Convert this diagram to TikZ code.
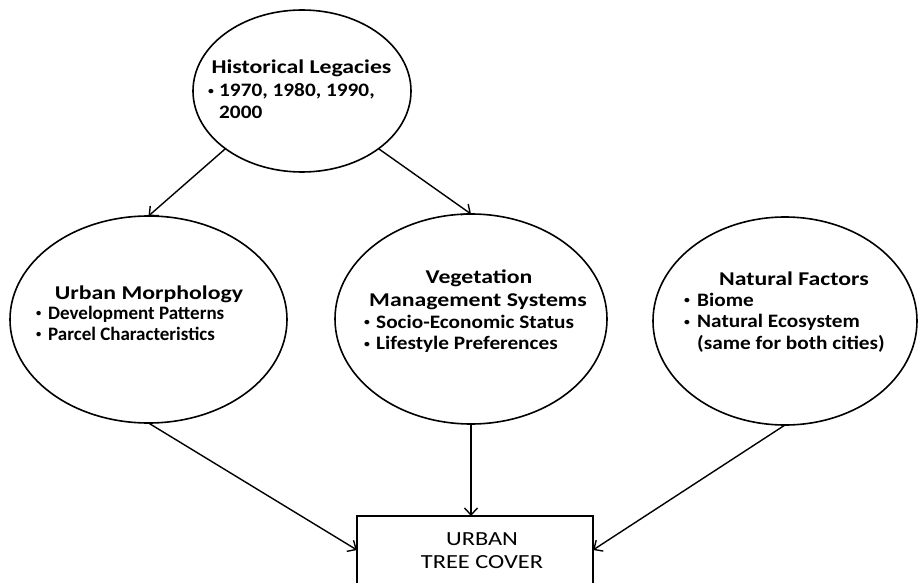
\documentclass[tikz,border=0pt]{standalone}
\usepackage{fontspec}
\setmainfont{Carlito}
\newfontfamily\ttlfont[FakeStretch=1.22]{Carlito}
\newfontfamily\bltfont[FakeStretch=1.12]{Carlito}
\newfontfamily\bltnarrow[FakeStretch=1.0]{Carlito}
\usetikzlibrary{shapes.geometric,arrows.meta,calc}
\newcommand{\bul}{\raisebox{2.5pt}{\scalebox{0.55}{•}}}
\begin{document}
\begin{tikzpicture}[x=1pt,y=-1pt,
  oval/.style={draw,ellipse,line width=1.6pt,inner sep=0pt,outer sep=0pt},
  boxnode/.style={draw,rectangle,line width=1.6pt,inner sep=0pt,outer sep=0pt},
  ttl/.style={anchor=base,inner sep=0pt,font=\ttlfont\fontsize{19.5}{21.5}\selectfont\bfseries},
  boxtxt/.style={anchor=base,inner sep=0pt,font=\ttlfont\fontsize{20}{22}\selectfont},
  blt/.style={anchor=base west,inner sep=0pt,font=\bltfont\fontsize{19}{21.5}\selectfont\bfseries},
  bltn/.style={anchor=base west,inner sep=0pt,font=\bltnarrow\fontsize{19}{21}\selectfont\bfseries},
  conn/.style={line width=1.4pt,-{Straight Barb[length=7pt,width=13pt,line width=1.4pt]}}]
\useasboundingbox (0,0) rectangle (918,583);
\clip (0,0) rectangle (918,583);
\fill[white] (0,0) rectangle (918,583);

% shapes
\node[oval,minimum width=218pt,minimum height=162pt] (top) at (302,91) {};
\node[oval,minimum width=277pt,minimum height=207pt] (um) at (148.5,319.5) {};
\node[oval,minimum width=272pt,minimum height=210pt] (veg) at (471,319) {};
\node[oval,minimum width=264pt,minimum height=208pt] (nat) at (785,321) {};
\node[boxnode,minimum width=236pt,minimum height=68pt] (box) at (475,550) {};

% texts
\node[ttl] (topt) at (301.5,74) {Historical Legacies};
\node[blt] (topb) at (208,97) {\begin{tabular}[t]{@{}l@{}l@{}}\makebox[11pt][l]{\bul}&1970, 1980, 1990,\\ &2000\end{tabular}};

\node[ttl] (umt) at (149,299) {Urban Morphology};
\node[bltn] (umb) at (36,319) {\begin{tabular}[t]{@{}l@{}l@{}}\makebox[12pt][l]{\bul}&Development Patterns\\ \makebox[12pt][l]{\bul}&Parcel Characteristics\end{tabular}};

\node[ttl] (vegt1) at (479,283) {Vegetation};
\node[ttl] (vegt2) at (478,306) {Management Systems};
\node[blt] (vegb) at (364,328) {\begin{tabular}[t]{@{}l@{}l@{}}\makebox[12pt][l]{\bul}&Socio-Economic Status\\ \makebox[12pt][l]{\bul}&Lifestyle Preferences\end{tabular}};

\node[ttl] (natt) at (794,285) {Natural Factors};
\node[blt] (natb) at (684,306) {\begin{tabular}[t]{@{}l@{}l@{}}\makebox[13pt][l]{\bul}&Biome\\ \makebox[13pt][l]{\bul}&Natural Ecosystem\\ &(same for both cities)\end{tabular}};

\node[boxtxt] (bt1) at (482,545) {URBAN};
\node[boxtxt] (bt2) at (482,568) {TREE COVER};

% connectors
\draw[conn] (top.217) -- (um.north);
\draw[conn] (top.323) -- (veg.north);
\draw[conn] (veg.south) -- (veg.south |- box.north);
\draw[conn] (um.south) -- (box.west);
\draw[conn] (nat.south) -- (box.east);
\end{tikzpicture}
\end{document}
